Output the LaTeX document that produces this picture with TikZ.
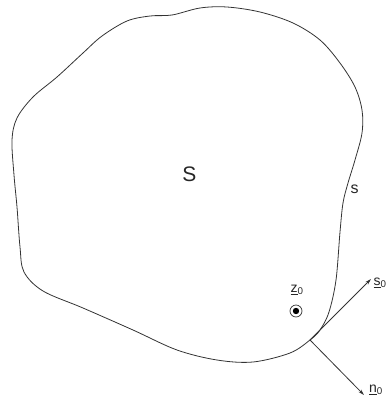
\documentclass[tikz,border=0pt]{standalone}
\usepackage{fontspec}
\setmainfont{Liberation Sans}
\usetikzlibrary{arrows.meta}
\begin{document}
\begin{tikzpicture}[x=1pt,y=-1pt,
  outline/.style={draw=black!80,line width=0.8pt},
  vec/.style={draw=black!80,line width=0.8pt,-{Stealth[length=6pt,width=3.5pt]}},
  lab/.style={inner sep=0pt,text=black!85}]
\useasboundingbox (0,0) rectangle (390,397);
\draw[outline] plot[smooth cycle,tension=0.55] coordinates {
 (172,15) (200,8) (227,7) (260,12) (293,23) (320,40) (340,63) (355,87)
 (362,110) (362,133) (355,160) (348,183) (343,203) (340,232) (336,280)
 (329,312) (320,330) (310,340) (290,353) (253,362) (217,360) (177,350)
 (133,330) (83,308) (43,291) (24,272) (20,247) (17,207) (14,175)
 (12,140) (17,118) (33,97) (57,77) (83,53) (102,36) (127,21) (150,16)};
\coordinate (p) at (310,340);
\coordinate (st) at (371,279);
\coordinate (nt) at (364,395);
\draw[vec] (p) -- (st);
\draw[vec] (p) -- (nt);
\node[lab,font=\fontsize{21}{21}\selectfont] (S) at (189.5,174) {S};
\node[lab,font=\fontsize{16}{16}\selectfont] (s) at (354.5,189) {s};
\node[lab,font=\fontsize{14}{14}\selectfont] (z) at (297,290) {\underline{z}\textsubscript{0}};
\node[circle,draw=black!80,line width=0.7pt,minimum size=12pt,inner sep=0pt] (zc) at (296,311) {};
\fill[black] (zc.center) circle (3.2pt);
\node[lab,font=\fontsize{14}{14}\selectfont] (s0) at (380,283) {\underline{s}\textsubscript{0}};
\node[lab,font=\fontsize{14}{14}\selectfont] (n0) at (376,390) {\underline{n}\textsubscript{0}};
\end{tikzpicture}
\end{document}
